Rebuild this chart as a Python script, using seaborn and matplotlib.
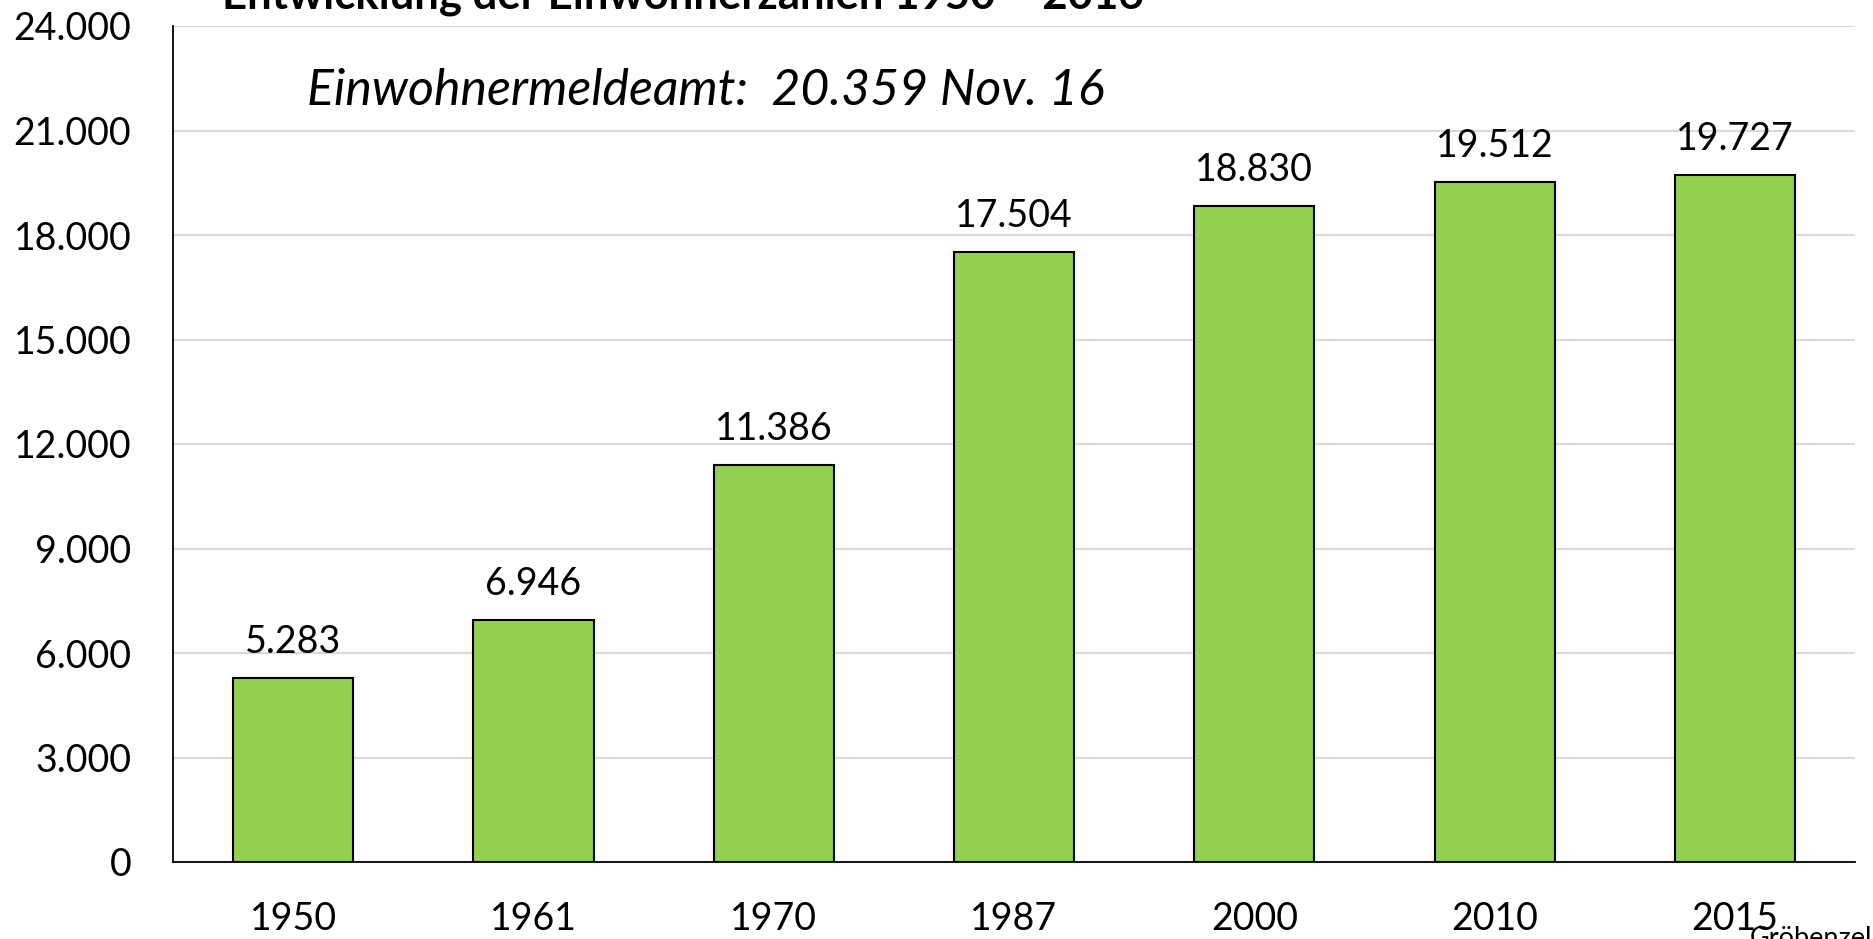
import numpy as np
import pandas as pd
import matplotlib
matplotlib.use('Agg')
import matplotlib.pyplot as plt
import seaborn as sns

# Daten
jahre = ['1950', '1961', '1970', '1987', '2000', '2010', '2015']
einwohner = [5283, 6946, 11386, 17504, 18830, 19512, 19727]
y_ticks = list(range(0, 24001, 3000))

df = pd.DataFrame({'Jahr': jahre, 'Einwohner': einwohner})


def de_format(v):
    return f'{int(v):,}'.replace(',', '.')


sns.set_theme(style='white')
plt.rcParams['font.family'] = ['Lato', 'DejaVu Sans']
plt.rcParams['text.color'] = 'black'
plt.rcParams['xtick.color'] = 'black'
plt.rcParams['ytick.color'] = 'black'

W, H = 1873, 939
fig = plt.figure(figsize=(W / 100, H / 100), dpi=100)
ax = fig.add_axes([173 / W, 1 - 862 / H, (1855 - 173) / W, (862 - 26) / H])

sns.barplot(data=df, x='Jahr', y='Einwohner', color='#92D050', width=0.5,
            edgecolor='black', linewidth=1.5, saturation=1, ax=ax)

ax.set_xlim(-0.5, len(jahre) - 0.5)
ax.set_ylim(0, 24000)
ax.set_yticks(y_ticks)
ax.set_yticklabels([de_format(t) for t in y_ticks], fontsize=27)
ax.tick_params(axis='x', labelsize=27, pad=28, length=0)
ax.tick_params(axis='y', pad=30, length=0)
ax.set_xlabel('')
ax.set_ylabel('')
ax.grid(axis='y', color='#D9D9D9', linewidth=1.5)
ax.set_axisbelow(True)
for s in ['top', 'right']:
    ax.spines[s].set_visible(False)
for s in ['left', 'bottom']:
    ax.spines[s].set_color('black')
    ax.spines[s].set_linewidth(1.3)

# Werte über den Balken
for i, v in enumerate(einwohner):
    ax.annotate(de_format(v), (i, v), xytext=(0, 13), textcoords='offset points',
                ha='center', va='bottom', fontsize=27)

# Titel (oben abgeschnitten)
fig.text(222 / W, 1 - 8 / H, 'Entwicklung der Einwohnerzahlen 1950 – 2016',
         fontsize=31.5, fontweight='bold', ha='left', va='baseline')

fig.text(307 / W, 1 - 105 / H, 'Einwohnermeldeamt:  20.359 Nov. 16',
         fontsize=36, fontstyle='italic', ha='left', va='baseline')

fig.text(1750 / W, 1 - 946 / H, 'Gröbenzell', fontsize=19.5, ha='left', va='baseline')

fig.savefig('out.png', dpi=100)
